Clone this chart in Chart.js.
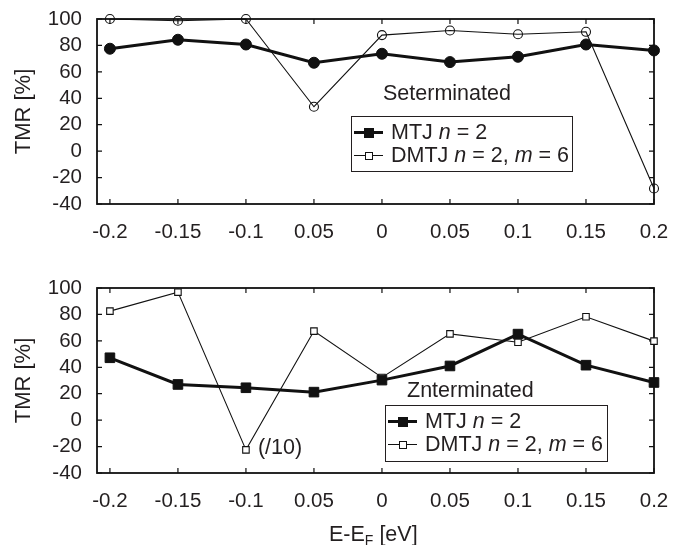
<!DOCTYPE html>
<html>
<head>
<meta charset="utf-8">
<script src="https://cdn.jsdelivr.net/npm/chart.js@4"></script>
<style>
  body { margin: 0; background: #fff; font-family: 'Liberation Sans', Arial, sans-serif; color: #231f20; }
  #wrap { position: relative; width: 686px; height: 545px; }
  canvas { position: absolute; left: 0; }
  .note { position: absolute; font-size: 21.5px; line-height: 24px; white-space: nowrap; }
  .legend { position: absolute; box-sizing: border-box; border: 1.5px solid #231f20; background: #fff; padding-top: 4px; }
  .row { position: relative; height: 23px; line-height: 23px; font-size: 21.5px; padding-left: 39px; white-space: nowrap; }
  .sym { position: absolute; left: 2px; top: 11px; width: 29px; background: #111; }
  .sym i { position: absolute; left: 50%; top: 50%; transform: translate(-50%, -50%); box-sizing: border-box; }
  .sym.mtj { height: 3px; margin-top: -1px; }
  .sym.mtj i { width: 10px; height: 10px; background: #111; }
  .sym.dmtj { height: 1px; }
  .sym.dmtj i { width: 8px; height: 8px; background: #fff; border: 1px solid #111; }
  #xtitle { left: 329px; top: 522px; }
  #xtitle sub { font-size: 14px; vertical-align: -4px; line-height: 0; }
</style>
</head>
<body>
<div id="wrap">
  <canvas id="topChart" width="686" height="270" style="top:0"></canvas>
  <canvas id="botChart" width="686" height="275" style="top:270px"></canvas>
  <div class="note" style="left:383px;top:81px">Seterminated</div>
  <div class="legend" style="left:351px;top:116px;width:222px;height:56px">
    <div class="row"><span class="sym mtj"><i></i></span>MTJ <em>n</em> = 2</div>
    <div class="row"><span class="sym dmtj"><i></i></span>DMTJ <em>n</em> = 2, <em>m</em> = 6</div>
  </div>
  <div class="note" style="left:407px;top:378px">Znterminated</div>
  <div class="legend" style="left:385px;top:405px;width:223px;height:57px">
    <div class="row"><span class="sym mtj"><i></i></span>MTJ <em>n</em> = 2</div>
    <div class="row"><span class="sym dmtj"><i></i></span>DMTJ <em>n</em> = 2, <em>m</em> = 6</div>
  </div>
  <div class="note" id="xtitle">E-E<sub>F</sub> [eV]</div>
</div>
<script>
// x 눈금 (원본 그림 그대로)
const xLabels = ['-0.2', '-0.15', '-0.1', '0.05', '0', '0.05', '0.1', '0.15', '0.2'];
const yTicks = [-40, -20, 0, 20, 40, 60, 80, 100];

// Se terminated
const seMtj = [77.5, 84.3, 80.7, 66.9, 73.7, 67.4, 71.4, 80.7, 76.2];
const seDmtj = [100, 98.7, 100, 33.6, 87.8, 91.3, 88.5, 90.3, -28.3];

// Zn terminated
const znMtj = [47.2, 27, 24.5, 21.2, 30.3, 41, 65.1, 41.6, 28.5];
const znDmtj = [82.5, 96.9, -22.5, 67.4, 32.3, 65.3, 59, 78.2, 59.8];

Chart.defaults.font.family = "'Liberation Sans', Arial, sans-serif";
Chart.defaults.font.size = 20.5;
Chart.defaults.color = '#231f20';

const ink = '#111';

// 테두리 + 안쪽 눈금
const boxPlugin = {
  id: 'box',
  beforeDatasetsDraw(chart) {
    const { ctx, chartArea: a, scales: { x, y } } = chart;
    ctx.save();
    ctx.strokeStyle = ink;
    ctx.lineWidth = 1.8;
    ctx.strokeRect(a.left, a.top, a.width, a.height);
    ctx.lineWidth = 1.2;
    ctx.beginPath();
    x.ticks.forEach(t => {
      const px = x.getPixelForValue(t.value);
      ctx.moveTo(px, a.bottom); ctx.lineTo(px, a.bottom - 5);
      ctx.moveTo(px, a.top); ctx.lineTo(px, a.top + 5);
    });
    y.ticks.forEach(t => {
      const py = y.getPixelForValue(t.value);
      ctx.moveTo(a.left, py); ctx.lineTo(a.left + 5, py);
      ctx.moveTo(a.right, py); ctx.lineTo(a.right - 5, py);
    });
    ctx.stroke();
    ctx.restore();
  }
};

// (/10) 표시
const divPlugin = {
  id: 'divNote',
  afterDatasetsDraw(chart) {
    const pt = chart.getDatasetMeta(1).data[2];
    const { ctx } = chart;
    ctx.save();
    ctx.font = "21.5px 'Liberation Sans', Arial, sans-serif";
    ctx.fillStyle = '#231f20';
    ctx.textAlign = 'left';
    ctx.textBaseline = 'middle';
    ctx.fillText('(/10)', pt.x + 12, pt.y - 2);
    ctx.restore();
  }
};

function makeChart(id, mtj, dmtj, style, padTop, xHeight, plugins) {
  const sq = style === 'rect';
  return new Chart(document.getElementById(id), {
    type: 'line',
    data: {
      datasets: [
        {
          label: 'MTJ n = 2',
          data: mtj.map((v, i) => ({ x: i, y: v })),
          borderColor: ink,
          backgroundColor: ink,
          borderWidth: 3,
          pointStyle: style,
          pointRadius: sq ? 6.8 : 5.5,
          pointBorderWidth: 1,
          clip: false,
        },
        {
          label: 'DMTJ n = 2, m = 6',
          data: dmtj.map((v, i) => ({ x: i, y: v })),
          borderColor: ink,
          backgroundColor: sq ? '#fff' : 'rgba(0,0,0,0)',
          borderWidth: 1.1,
          pointStyle: style,
          pointRadius: sq ? 4.6 : 4.5,
          pointBorderWidth: 1.1,
          clip: false,
        },
      ],
    },
    options: {
      responsive: false,
      animation: false,
      layout: { padding: { left: 0, right: 32, top: padTop, bottom: 0 } },
      plugins: { legend: { display: false }, tooltip: { enabled: false } },
      scales: {
        x: {
          type: 'linear',
          min: -0.19,
          max: 8,
          grid: { display: false, drawTicks: false },
          border: { display: false },
          afterBuildTicks: s => { s.ticks = xLabels.map((_, i) => ({ value: i })); },
          afterFit: s => { s.height = xHeight; },
          ticks: { padding: 16, maxRotation: 0, autoSkip: false, callback: v => xLabels[v] },
        },
        y: {
          min: -40,
          max: 100,
          grid: { display: false, drawTicks: false },
          border: { display: false },
          afterBuildTicks: s => { s.ticks = yTicks.map(v => ({ value: v })); },
          afterFit: s => { s.width = 97; s.paddingTop = 0; s.paddingBottom = 0; },
          ticks: { padding: 15, autoSkip: false },
          title: { display: true, text: 'TMR [%]', font: { size: 22 }, padding: { top: 11, bottom: 0 } },
        },
      },
    },
    plugins: plugins,
  });
}

makeChart('topChart', seMtj, seDmtj, 'circle', 19, 66, [boxPlugin]);
makeChart('botChart', znMtj, znDmtj, 'rect', 18, 72, [boxPlugin, divPlugin]);
</script>
</body>
</html>
